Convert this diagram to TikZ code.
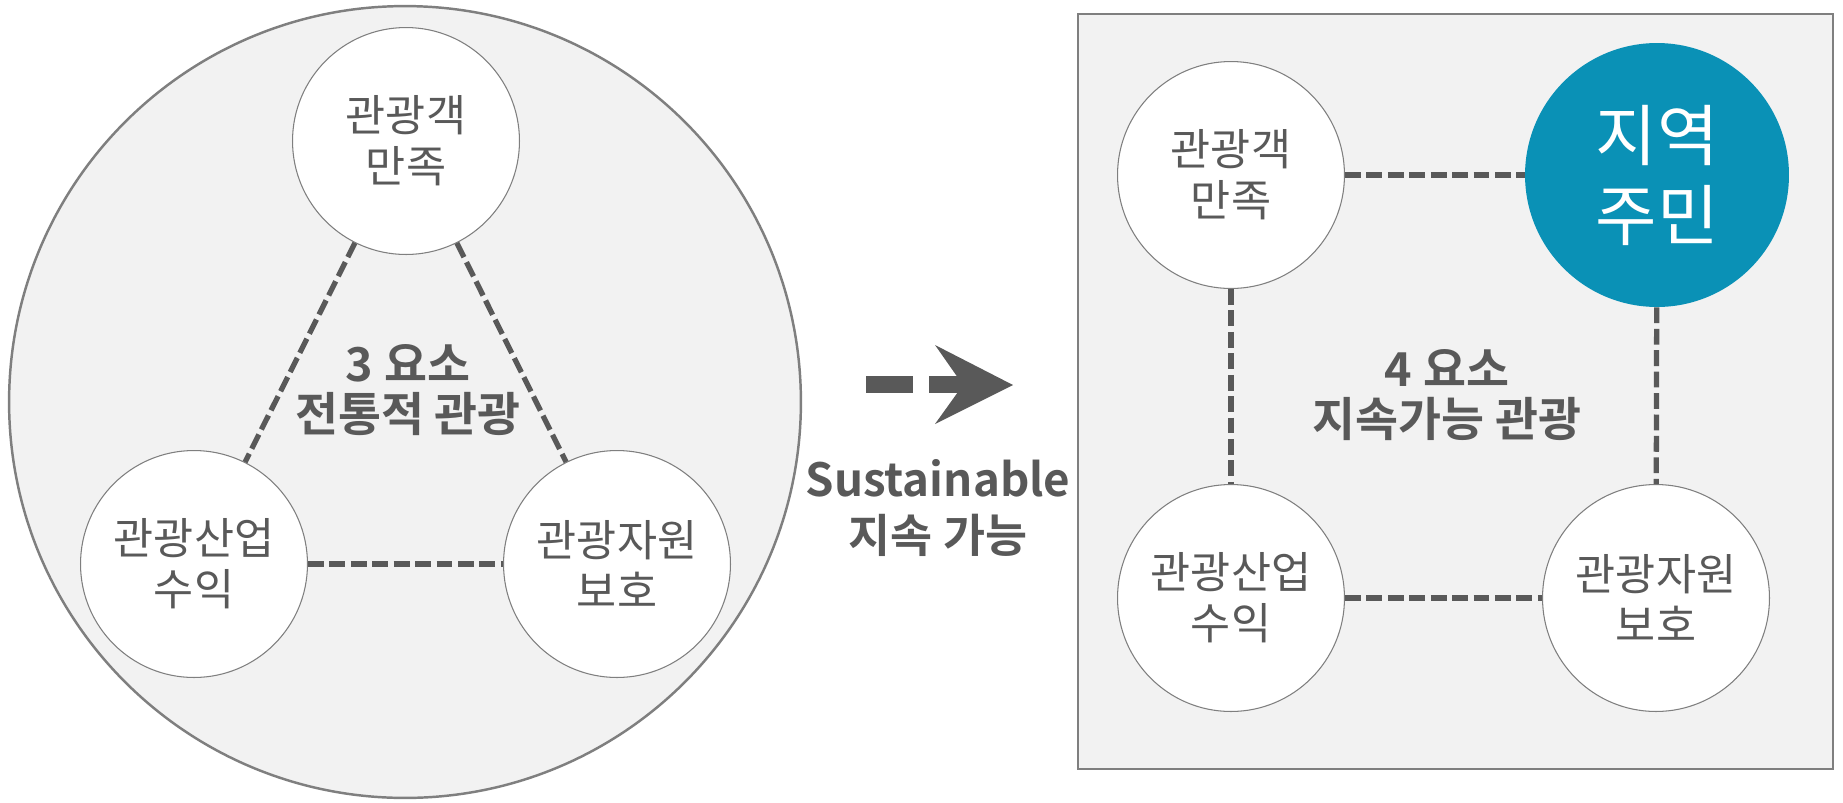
\documentclass[tikz,border=0pt]{standalone}
\usepackage{fontspec}
\setmainfont{Noto Sans CJK KR}[BoldFont={Noto Sans CJK KR Bold}]
\usetikzlibrary{positioning}
\definecolor{txtgray}{HTML}{595959}
\definecolor{linegray}{HTML}{7F7F7F}
\definecolor{panelgray}{HTML}{F2F2F2}
\definecolor{residentblue}{HTML}{0A91B6}
\begin{document}
\begin{tikzpicture}[x=0.02cm,y=-0.02cm]
  \tikzset{
  p/.style={circle,draw=linegray,line width=0.6pt,fill=white,inner sep=0pt,minimum size=4.54cm,align=center,text=txtgray,font=\fontsize{24.8}{29}\selectfont},
  q/.style={circle,fill=residentblue,inner sep=0pt,minimum size=5.28cm,align=center,text=white,font=\fontsize{38}{45.5}\selectfont},
  c/.style={dash pattern=on 9pt off 3.2pt,line width=3pt,draw=txtgray},
  lbl/.style={align=center,text=txtgray,font=\bfseries\fontsize{26.6}{28}\selectfont},
  }
  \useasboundingbox (0,0) rectangle (1843,802);
  % the old model
  \draw[linegray,line width=1.4pt,fill=panelgray] (405,402) circle (7.92cm);
  \node[p] (lt) at (406,141) {관광객\\만족};
  \node[p] (lbl) at (194,564) {관광산업\\수익};
  \node[p] (lbr) at (617,564) {관광자원\\보호};
  \node[lbl] (lc) at (408,390) {3 요소\\전통적 관광};

  % the connection between the circles
  \draw[c] (lt) -- (lbl);
  \draw[c] (lt) -- (lbr);
  \draw[c] (lbl) -- (lbr);

  % the arrow
  \fill[txtgray] (866,376) rectangle (913,393);
  \fill[txtgray] (929,376) rectangle (963,393);
  \fill[txtgray] (935,345) -- (1013,385) -- (935,424) -- (963,385) -- cycle;
  \node[text=txtgray,align=center,font=\bfseries\fontsize{26}{32.4}\selectfont] (sus) at (938,508) {Sustainable\\지속 가능};

  % the new model
  \draw[linegray,line width=1.4pt,fill=panelgray] (1078,14) rectangle (1833,769);
  \node[p] (rtl) at (1231,175) {관광객\\만족};
  \node[q] (rtr) at (1657,175) {지역\\주민};
  \node[p] (rbl) at (1231,598) {관광산업\\수익};
  \node[p] (rbr) at (1656,598) {관광자원\\보호};
  \node[lbl] (rc) at (1447,395) {4 요소\\지속가능 관광};

  % the connection between the circles
  \draw[c] (rtl) -- (rtr);
  \draw[c] (rtl) -- (rbl);
  \draw[c] (rtr) -- (rbr);
  \draw[c] (rbl) -- (rbr);
\end{tikzpicture}
\end{document}
